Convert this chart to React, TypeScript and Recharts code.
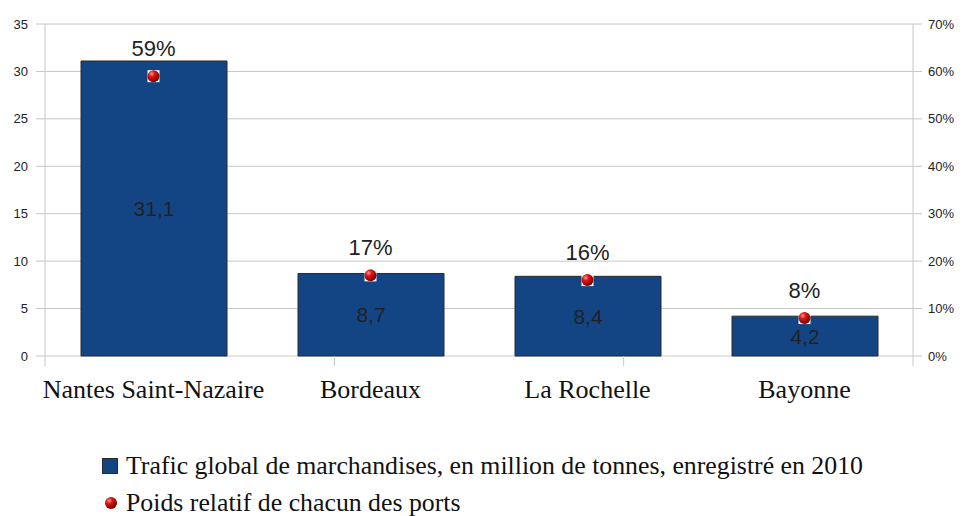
import { ComposedChart, Bar, Line, XAxis, YAxis, CartesianGrid, LabelList } from 'recharts';

const ports = ['Nantes Saint-Nazaire', 'Bordeaux', 'La Rochelle', 'Bayonne'];
const traffic = [31.1, 8.7, 8.4, 4.2];
const share = [59, 17, 16, 8];
const leftTicks = [0, 5, 10, 15, 20, 25, 30, 35];
const rightTicks = [0, 10, 20, 30, 40, 50, 60, 70];
const boundTicks = [0, 1, 2, 3, 4];
const trafficLabel = 'Trafic global de marchandises, en million de tonnes, enregistré en 2010';
const shareLabel = 'Poids relatif de chacun des ports';

const data = ports.map((port, i) => ({ port, traffic: traffic[i], share: share[i] }));

const GRID = '#c6c6c6';
const BAR = '#134585';
const SERIF = '"Liberation Serif", "DejaVu Serif", serif';
const SANS = '"Liberation Sans", Arial, sans-serif';

const Ball = (props: any) => {
  const { cx, cy } = props;
  if (cx == null || cy == null) return null;
  return (
    <g>
      <rect x={cx - 6} y={cy - 6} width={12} height={12} fill="#fff" />
      <circle cx={cx} cy={cy} r={6} fill="url(#ball)" />
    </g>
  );
};

export default function App() {
  return (
    <div style={{ position: 'absolute', left: 0, top: 0, width: 964, height: 516, background: '#fff', overflow: 'hidden' }}>
      <ComposedChart
        width={964}
        height={516}
        data={data}
        margin={{ top: 24, right: 0, bottom: 99, left: 0 }}
      >
        <defs>
          <radialGradient id="ball" cx="35%" cy="30%" r="70%">
            <stop offset="0%" stopColor="#ff9a9a" />
            <stop offset="35%" stopColor="#e01818" />
            <stop offset="100%" stopColor="#7a0000" />
          </radialGradient>
        </defs>
        <CartesianGrid vertical={false} stroke={GRID} yAxisId="left" />
        <XAxis
          xAxisId="bounds"
          type="number"
          domain={[0, 4]}
          ticks={boundTicks}
          tickFormatter={() => ''}
          tick={{ fontSize: 1 }}
          axisLine={false}
          tickSize={10}
          tickLine={{ stroke: GRID }}
          interval={0}
          height={1}
        />
        <XAxis
          xAxisId="cat"
          dataKey="port"
          axisLine={false}
          tickLine={false}
          tickSize={0}
          tickMargin={23}
          height={60}
          interval={0}
          tick={{ fill: '#111', fontSize: 26, fontFamily: SERIF }}
        />
        <YAxis
          yAxisId="left"
          domain={[0, 35]}
          ticks={leftTicks}
          width={45}
          tickSize={9}
          tickMargin={8}
          axisLine={{ stroke: GRID }}
          tickLine={{ stroke: GRID }}
          tick={{ fill: '#222', fontSize: 13, fontFamily: SANS }}
        />
        <YAxis
          yAxisId="right"
          orientation="right"
          domain={[0, 70]}
          ticks={rightTicks}
          tickFormatter={(v: number) => `${v}%`}
          width={51}
          tickSize={9}
          tickMargin={6}
          axisLine={{ stroke: GRID }}
          tickLine={{ stroke: GRID }}
          tick={{ fill: '#222', fontSize: 13, fontFamily: SANS }}
        />
        <Bar
          xAxisId="cat"
          yAxisId="left"
          dataKey="traffic"
          barSize={146}
          fill={BAR}
          stroke="#2a2a2a"
          strokeWidth={1}
          isAnimationActive={false}
        >
          <LabelList
            dataKey="traffic"
            position="center"
            formatter={(v: any) => String(v).replace('.', ',')}
            fill="#222"
            fontSize={21}
            fontFamily={SANS}
          />
        </Bar>
        <Line
          xAxisId="cat"
          yAxisId="right"
          dataKey="share"
          stroke="none"
          dot={<Ball />}
          activeDot={false}
          isAnimationActive={false}
        >
          <LabelList
            dataKey="share"
            position="top"
            offset={20}
            formatter={(v: any) => `${v}%`}
            fill="#222"
            fontSize={22}
            fontFamily={SANS}
          />
        </Line>
      </ComposedChart>
      <div style={{ position: 'absolute', left: 102, top: 452, fontFamily: SERIF, fontSize: 25.8, color: '#111', lineHeight: '28px' }}>
        <div style={{ display: 'flex', alignItems: 'center', height: 28, marginBottom: 9 }}>
          <span style={{ width: 16, height: 16, background: BAR, border: '1px solid #2a2a2a', boxSizing: 'border-box', marginRight: 8 }} />
          {trafficLabel}
        </div>
        <div style={{ display: 'flex', alignItems: 'center', height: 28 }}>
          <svg width={16} height={14} style={{ marginRight: 8 }}>
            <defs>
              <radialGradient id="ball2" cx="35%" cy="30%" r="70%">
                <stop offset="0%" stopColor="#ff9a9a" />
                <stop offset="35%" stopColor="#e01818" />
                <stop offset="100%" stopColor="#7a0000" />
              </radialGradient>
            </defs>
            <circle cx={9} cy={7} r={6} fill="url(#ball2)" />
          </svg>
          {shareLabel}
        </div>
      </div>
    </div>
  );
}
